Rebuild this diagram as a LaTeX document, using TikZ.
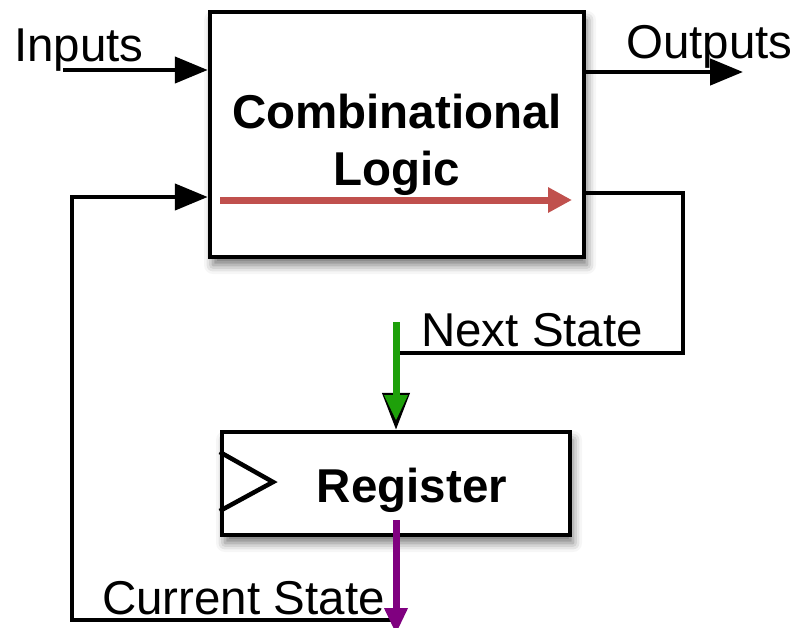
\documentclass[tikz,border=0pt]{standalone}
\usepackage{fontspec}
\setmainfont{Liberation Sans}
\usetikzlibrary{arrows.meta,shadows.blur}
\definecolor{redarr}{HTML}{C0504D}
\definecolor{greenarr}{RGB}{30,160,10}
\definecolor{purplearr}{RGB}{128,0,128}
\begin{document}
\begin{tikzpicture}[x=1pt,y=-1pt,
  box/.style={draw=black, fill=white, line width=4.5pt, rectangle, inner sep=0pt,
    blur shadow={shadow xshift=3pt, shadow yshift=-8pt, shadow blur radius=9pt, shadow opacity=55}},
  wire/.style={line width=4.5pt, line join=miter},
  blk/.style={-{Triangle[length=33pt,width=26pt]}},
  lbl/.style={inner sep=0pt, anchor=base west, font=\fontsize{47.5}{56}\selectfont},
  ttl/.style={inner sep=0pt, anchor=base, font=\fontsize{47.5}{56}\selectfont\bfseries}]
\useasboundingbox (0,0) rectangle (795,627);
% boxes
\node[box, minimum width=374pt, minimum height=245pt] (comb) at (397,134.5) {};
\node[box, minimum width=348pt, minimum height=103pt] (reg) at (396,483.5) {};
% texts
\node[ttl] (tcomb) at (397,128) {Combinational};
\node[ttl] (tlogic) at (397,185) {Logic};
\node[ttl] (treg) at (412,502) {Register};
\node[lbl] (tin) at (14,61) {Inputs};
\node[lbl] (tout) at (626,58) {Outputs};
\node[lbl] (tnext) at (421,346) {Next State};
\node[lbl] (tcur) at (102,614) {Current State};
% coordinates
\coordinate (inL) at (63,70);
\coordinate (outR) at (743,72);
\coordinate (nsA) at (683,193);
\coordinate (nsB) at (683,353);
\coordinate (nsC) at (396,353);
\coordinate (csR) at (396,620);
\coordinate (csL) at (72,620);
\coordinate (fbT) at (72,197);
\coordinate (redS) at (220,200);
\coordinate (redE) at (572,200);
\coordinate (grS) at (396,322);
\coordinate (grE) at (396,421);
\coordinate (puE) at (396,634);
% clock triangle
\draw[wire] (reg.west |- 0,452) -- (273,482) -- (reg.west |- 0,511);
% black wires
\draw[wire, blk] (inL) -- (inL -| comb.west);
\draw[wire, blk] (comb.east |- outR) -- (outR);
\draw[wire, blk] (csR) -- (csL) -- (fbT) -- (fbT -| comb.west);
\draw[wire, -{Triangle[length=37pt,width=27pt]}] (comb.east |- nsA) -- (nsA) -- (nsB) -- (nsC) -- (reg.north);
% coloured arrows
\draw[line width=7pt, redarr, -{Triangle[length=24pt,width=24pt]}] (redS) -- (redE);
\draw[line width=7pt, greenarr, -{Triangle[length=26pt,width=22pt]}] (grS) -- (grE);
\draw[line width=7pt, purplearr, -{Triangle[length=26pt,width=22pt]}] (reg.south |- 0,520) -- (puE);
\end{tikzpicture}
\end{document}
